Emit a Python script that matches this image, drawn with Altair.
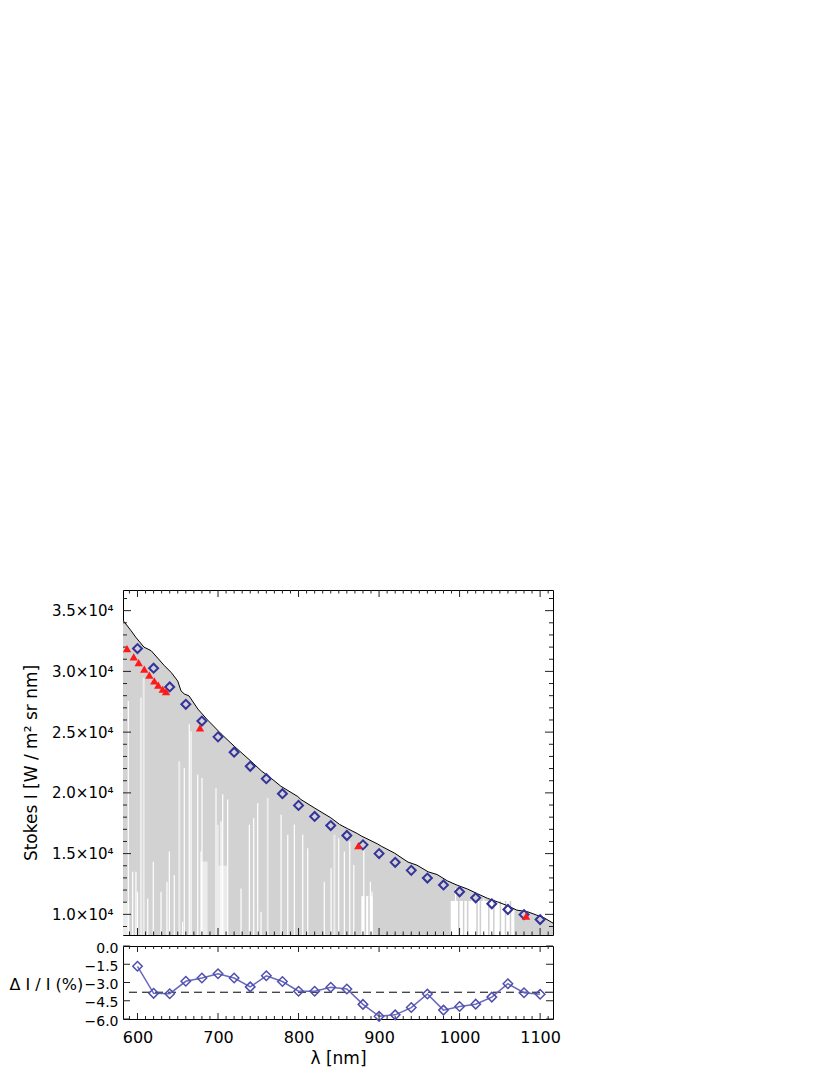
import altair as alt
import pandas as pd

# ---------------- data ----------------
# upper envelope (continuum) of the Stokes I spectrum
CONT_NM = [582, 592, 598, 608, 617, 625, 633, 642, 650, 654, 658, 664, 675, 687, 704, 720, 741, 754, 766, 778,
           799, 803, 820, 840, 851, 861, 873, 878, 898, 903, 919, 936, 947, 961, 972, 985, 997, 1010, 1022, 1035,
           1047, 1060, 1071, 1085, 1096, 1105, 1117]
CONT_I = [34200, 33350, 32800, 32000, 31700, 31100, 30500, 29900, 29200, 28400, 28150, 27980, 26900, 26000, 24850,
          23850, 22600, 21800, 21200, 20550, 19700, 19450, 18750, 17950, 17400, 17050, 16650, 16450, 15800, 15600,
          15050, 14300, 14050, 13500, 13280, 12750, 12400, 12080, 11700, 11310, 11030, 10700, 10350, 10200, 9930,
          9710, 9240]

# deep absorption lines (white streaks rising from the bottom)
WHITE_NM = [588.6, 594, 598.1, 600, 612.7, 619.6, 629.2, 636.6, 639.5, 645.7, 656, 658.1, 664.3, 666.5, 674.8,
            678.9, 680.1, 703.7, 705.8, 712, 728.6, 738.9, 744.3, 749.3, 753.4, 778.3, 786.6, 794.8, 805.2, 811.4,
            832, 840.4, 849.9, 856.9, 863.6, 868.6, 881, 889.2, 891.3, 995, 1015.5, 1030]
WHITE_TOP = [27560, 13510, 13510, 11860, 11310, 14340, 11860, 12690, 15170, 13240, 9380, 22050, 25640, 25080, 21510,
             15170, 21220, 17640, 19880, 19460, 12130, 17370, 17920, 19160, 10210, 18200, 16550, 17390, 16570, 15440,
             12690, 13790, 16270, 15170, 15990, 14070, 15440, 12690, 11860, 12130, 11450, 11310]
# weaker lines (light grey streaks)
LIGHT_NM = [604.3, 607.7, 651.9, 697.5, 699.6, 761.7, 844.5]
LIGHT_TOP = [27840, 29490, 22600, 20400, 17370, 19570, 16550]
# light and white bands near the bottom
LBAND_START = [582, 679, 697]
LBAND_END = [590, 687, 712]
LBAND_TOP = [11000, 14340, 14000]
WBAND_START = [878, 989]
WBAND_END = [892, 1068]
WBAND_TOP = [11500, 11100]
# grey spectral lines inside the white bands
GREY_NM = [883, 887.5, 999, 1005, 1010, 1021.7, 1025.8, 1036.3, 1042.5, 1050.7, 1057, 1063.2]
GREY_TOP = [11500, 11500, 11100, 11100, 11100, 11100, 11100, 11100, 11100, 11100, 11100, 11100]

# blue diamonds (model)
DIA_NM = [600, 620, 640, 660, 680, 700, 720, 740, 760, 780, 800, 820, 840, 860, 880, 900, 920, 940, 960, 980,
          1000, 1020, 1040, 1060, 1080, 1100]
DIA_I = [31880, 30260, 28720, 27290, 25910, 24610, 23350, 22190, 21170, 19930, 18970, 18060, 17310, 16490, 15720,
         15000, 14280, 13620, 12990, 12420, 11860, 11360, 10870, 10400, 9980, 9570]
# red triangles (observations)
TRI_NM = [587, 595.3, 601.5, 608.4, 614.7, 620.9, 625.8, 631.3, 635.4, 677.6, 874.3, 1082.6]
TRI_I = [31880, 31200, 30730, 30180, 29690, 29210, 28860, 28530, 28330, 25360, 15660, 9850]

# relative difference (%) in the lower panel
DEV = [-1.67, -3.89, -3.92, -2.90, -2.63, -2.28, -2.63, -3.36, -2.45, -2.92, -3.72, -3.72, -3.39, -3.53, -4.80,
       -5.78, -5.66, -5.06, -3.94, -5.27, -4.97, -4.78, -4.20, -3.10, -3.84, -3.96]
DEV_MEAN = -3.8

# axis ticks / labels
X_MAJOR = [600, 700, 800, 900, 1000, 1100]
X_MINOR = [590, 610, 620, 630, 640, 650, 660, 670, 680, 690, 710, 720, 730, 740, 750, 760, 770, 780, 790,
           810, 820, 830, 840, 850, 860, 870, 880, 890, 910, 920, 930, 940, 950, 960, 970, 980, 990,
           1010, 1020, 1030, 1040, 1050, 1060, 1070, 1080, 1090, 1110]
Y1_MAJOR = [10000, 15000, 20000, 25000, 30000, 35000]
Y1_MINOR = [9000, 11000, 12000, 13000, 14000, 16000, 17000, 18000, 19000, 21000, 22000, 23000, 24000,
            26000, 27000, 28000, 29000, 31000, 32000, 33000, 34000, 36000]
Y2_MAJOR = [0, -1.5, -3, -4.5, -6]
X_DOMAIN = [582, 1116]
Y1_DOMAIN = [8300, 36700]
Y2_DOMAIN = [-6, 0]

# ---------------- chart ----------------
FONT = "DejaVu Sans"
W, H1, H2 = 430, 345, 73
TICK = "#222222"

XS = alt.Scale(domain=X_DOMAIN, nice=False, zero=False)
YS1 = alt.Scale(domain=Y1_DOMAIN, nice=False, zero=False)
YS2 = alt.Scale(domain=Y2_DOMAIN, nice=False, zero=False)

Y1AX = alt.Axis(values=Y1_MAJOR, labelExpr="format(datum.value/10000, '.1f') + '×10⁴'",
                ticks=False, tickSize=0, domain=False, grid=False, labelPadding=10, labelOverlap=False,
                labelFont=FONT, labelFontSize=15, labelColor="black",
                title="Stokes I [W / m² sr nm]", titleFont=FONT, titleFontSize=17, titleFontWeight="normal",
                titleColor="black", titleAngle=270, titleX=-92, titleY=H1 / 2, titleAlign="center",
                titleBaseline="middle")
Y2AX = alt.Axis(values=Y2_MAJOR, format=".1f", ticks=False, tickSize=0, domain=False, grid=False,
                labelPadding=5, labelFont=FONT, labelFontSize=14, labelColor="black",
                labelOverlap=False, labelOffset=2,
                title="Δ I / I (%)", titleFont=FONT, titleFontSize=16, titleFontWeight="normal",
                titleColor="black", titleAngle=0, titleX=-114, titleY=38, titleAlign="left",
                titleBaseline="middle")
X2AX = alt.Axis(values=X_MAJOR, format="d", ticks=False, tickSize=0, domain=False, grid=False,
                labelPadding=10, labelFont=FONT, labelFontSize=16, labelColor="black", labelOverlap=False,
                title="λ [nm]", titleFont=FONT, titleFontSize=17, titleFontWeight="normal",
                titleColor="black", titlePadding=5)

cont = pd.DataFrame({"nm": CONT_NM, "I": CONT_I})
white = pd.DataFrame({"nm": WHITE_NM, "top": WHITE_TOP})
light = pd.DataFrame({"nm": LIGHT_NM, "top": LIGHT_TOP})
lband = pd.DataFrame({"s": LBAND_START, "e": LBAND_END, "top": LBAND_TOP})
wband = pd.DataFrame({"s": WBAND_START, "e": WBAND_END, "top": WBAND_TOP})
grey = pd.DataFrame({"nm": GREY_NM, "top": GREY_TOP})
dia = pd.DataFrame({"nm": DIA_NM, "I": DIA_I})
tri = pd.DataFrame({"nm": TRI_NM, "I": TRI_I})
dev = pd.DataFrame({"nm": DIA_NM, "d": DEV})


def xq(f, axis=None):
    return alt.X(f, type="quantitative", scale=XS, axis=axis)


def y1(f):
    return alt.Y(f, type="quantitative", scale=YS1, axis=Y1AX)


def y2(f):
    return alt.Y(f, type="quantitative", scale=YS2, axis=Y2AX)


def x_ticks(vals, length, h, axis=None):
    d = pd.DataFrame({"v": vals})
    top = alt.Chart(d).mark_rule(color=TICK, strokeWidth=1).encode(
        x=xq("v", axis), y=alt.value(0), y2=alt.value(length))
    bot = alt.Chart(d).mark_rule(color=TICK, strokeWidth=1).encode(
        x=xq("v", axis), y=alt.value(h), y2=alt.value(h - length))
    return [top, bot]


def y_ticks(vals, length, yenc):
    d = pd.DataFrame({"v": vals})
    left = alt.Chart(d).mark_rule(color=TICK, strokeWidth=1).encode(
        y=yenc("v"), x=alt.value(0), x2=alt.value(length))
    right = alt.Chart(d).mark_rule(color=TICK, strokeWidth=1).encode(
        y=yenc("v"), x=alt.value(W), x2=alt.value(W - length))
    return [left, right]


area = alt.Chart(cont).mark_area(color="#d2d2d2", clip=True).encode(
    x=xq("nm"), y=y1("I"), y2=alt.Y2(datum=Y1_DOMAIN[0]))
lband_l = alt.Chart(lband).mark_rect(color="#ebebeb", clip=True).encode(
    x=xq("s"), x2="e", y=y1("top"), y2=alt.Y2(datum=Y1_DOMAIN[0]))
wband_l = alt.Chart(wband).mark_rect(color="white", clip=True).encode(
    x=xq("s"), x2="e", y=y1("top"), y2=alt.Y2(datum=Y1_DOMAIN[0]))
light_l = alt.Chart(light).mark_rule(color="#ebebeb", strokeWidth=2, clip=True).encode(
    x=xq("nm"), y=y1("top"), y2=alt.Y2(datum=Y1_DOMAIN[0]))
white_l = alt.Chart(white).mark_rule(color="white", strokeWidth=1.2, clip=True).encode(
    x=xq("nm"), y=y1("top"), y2=alt.Y2(datum=Y1_DOMAIN[0]))
grey_l = alt.Chart(grey).mark_rule(color="#cfcfcf", strokeWidth=1.5, clip=True).encode(
    x=xq("nm"), y=y1("top"), y2=alt.Y2(datum=Y1_DOMAIN[0]))
line_l = alt.Chart(cont).mark_line(color="black", strokeWidth=1, clip=True).encode(
    x=xq("nm"), y=y1("I"))
dia_l = alt.Chart(dia).mark_point(shape="diamond", filled=False, color="#33339a", strokeWidth=2,
                                  size=80, opacity=1).encode(x=xq("nm"), y=y1("I"))
tri_l = alt.Chart(tri).mark_point(shape="triangle-up", filled=True, color="#ff1a1a", size=70,
                                  opacity=1).encode(x=xq("nm"), y=y1("I"))

top = alt.layer(
    area, lband_l, wband_l, light_l, white_l, grey_l, line_l,
    *x_ticks(X_MAJOR, 7, H1), *x_ticks(X_MINOR, 3.5, H1),
    *y_ticks(Y1_MAJOR, 8, y1), *y_ticks(Y1_MINOR, 4, y1),
    dia_l, tri_l,
).properties(width=W, height=H1)

mean_l = alt.Chart(pd.DataFrame({"m": [DEV_MEAN]})).mark_rule(
    color="black", strokeDash=[8, 5], strokeWidth=1).encode(y=y2("m"))
dev_line = alt.Chart(dev).mark_line(color="#6868bd", strokeWidth=1.5).encode(
    x=xq("nm", X2AX), y=y2("d"))
dev_pts = alt.Chart(dev).mark_point(shape="diamond", filled=False, color="#4f4fae", strokeWidth=1.5,
                                    size=90, opacity=1).encode(x=xq("nm", X2AX), y=y2("d"))

bottom = alt.layer(
    mean_l, dev_line,
    *x_ticks(X_MAJOR, 6, H2, X2AX), *x_ticks(X_MINOR, 3, H2, X2AX),
    *y_ticks(Y2_MAJOR, 7, y2),
    dev_pts,
).properties(width=W, height=H2)

chart = alt.vconcat(top, bottom, spacing=11, bounds="flush").properties(
    padding={"left": 0, "top": 581, "right": 0, "bottom": 0},
    background="white",
).configure_view(stroke="black", strokeWidth=1)

chart.save("out.html", embed_options={"renderer": "svg", "actions": False})
